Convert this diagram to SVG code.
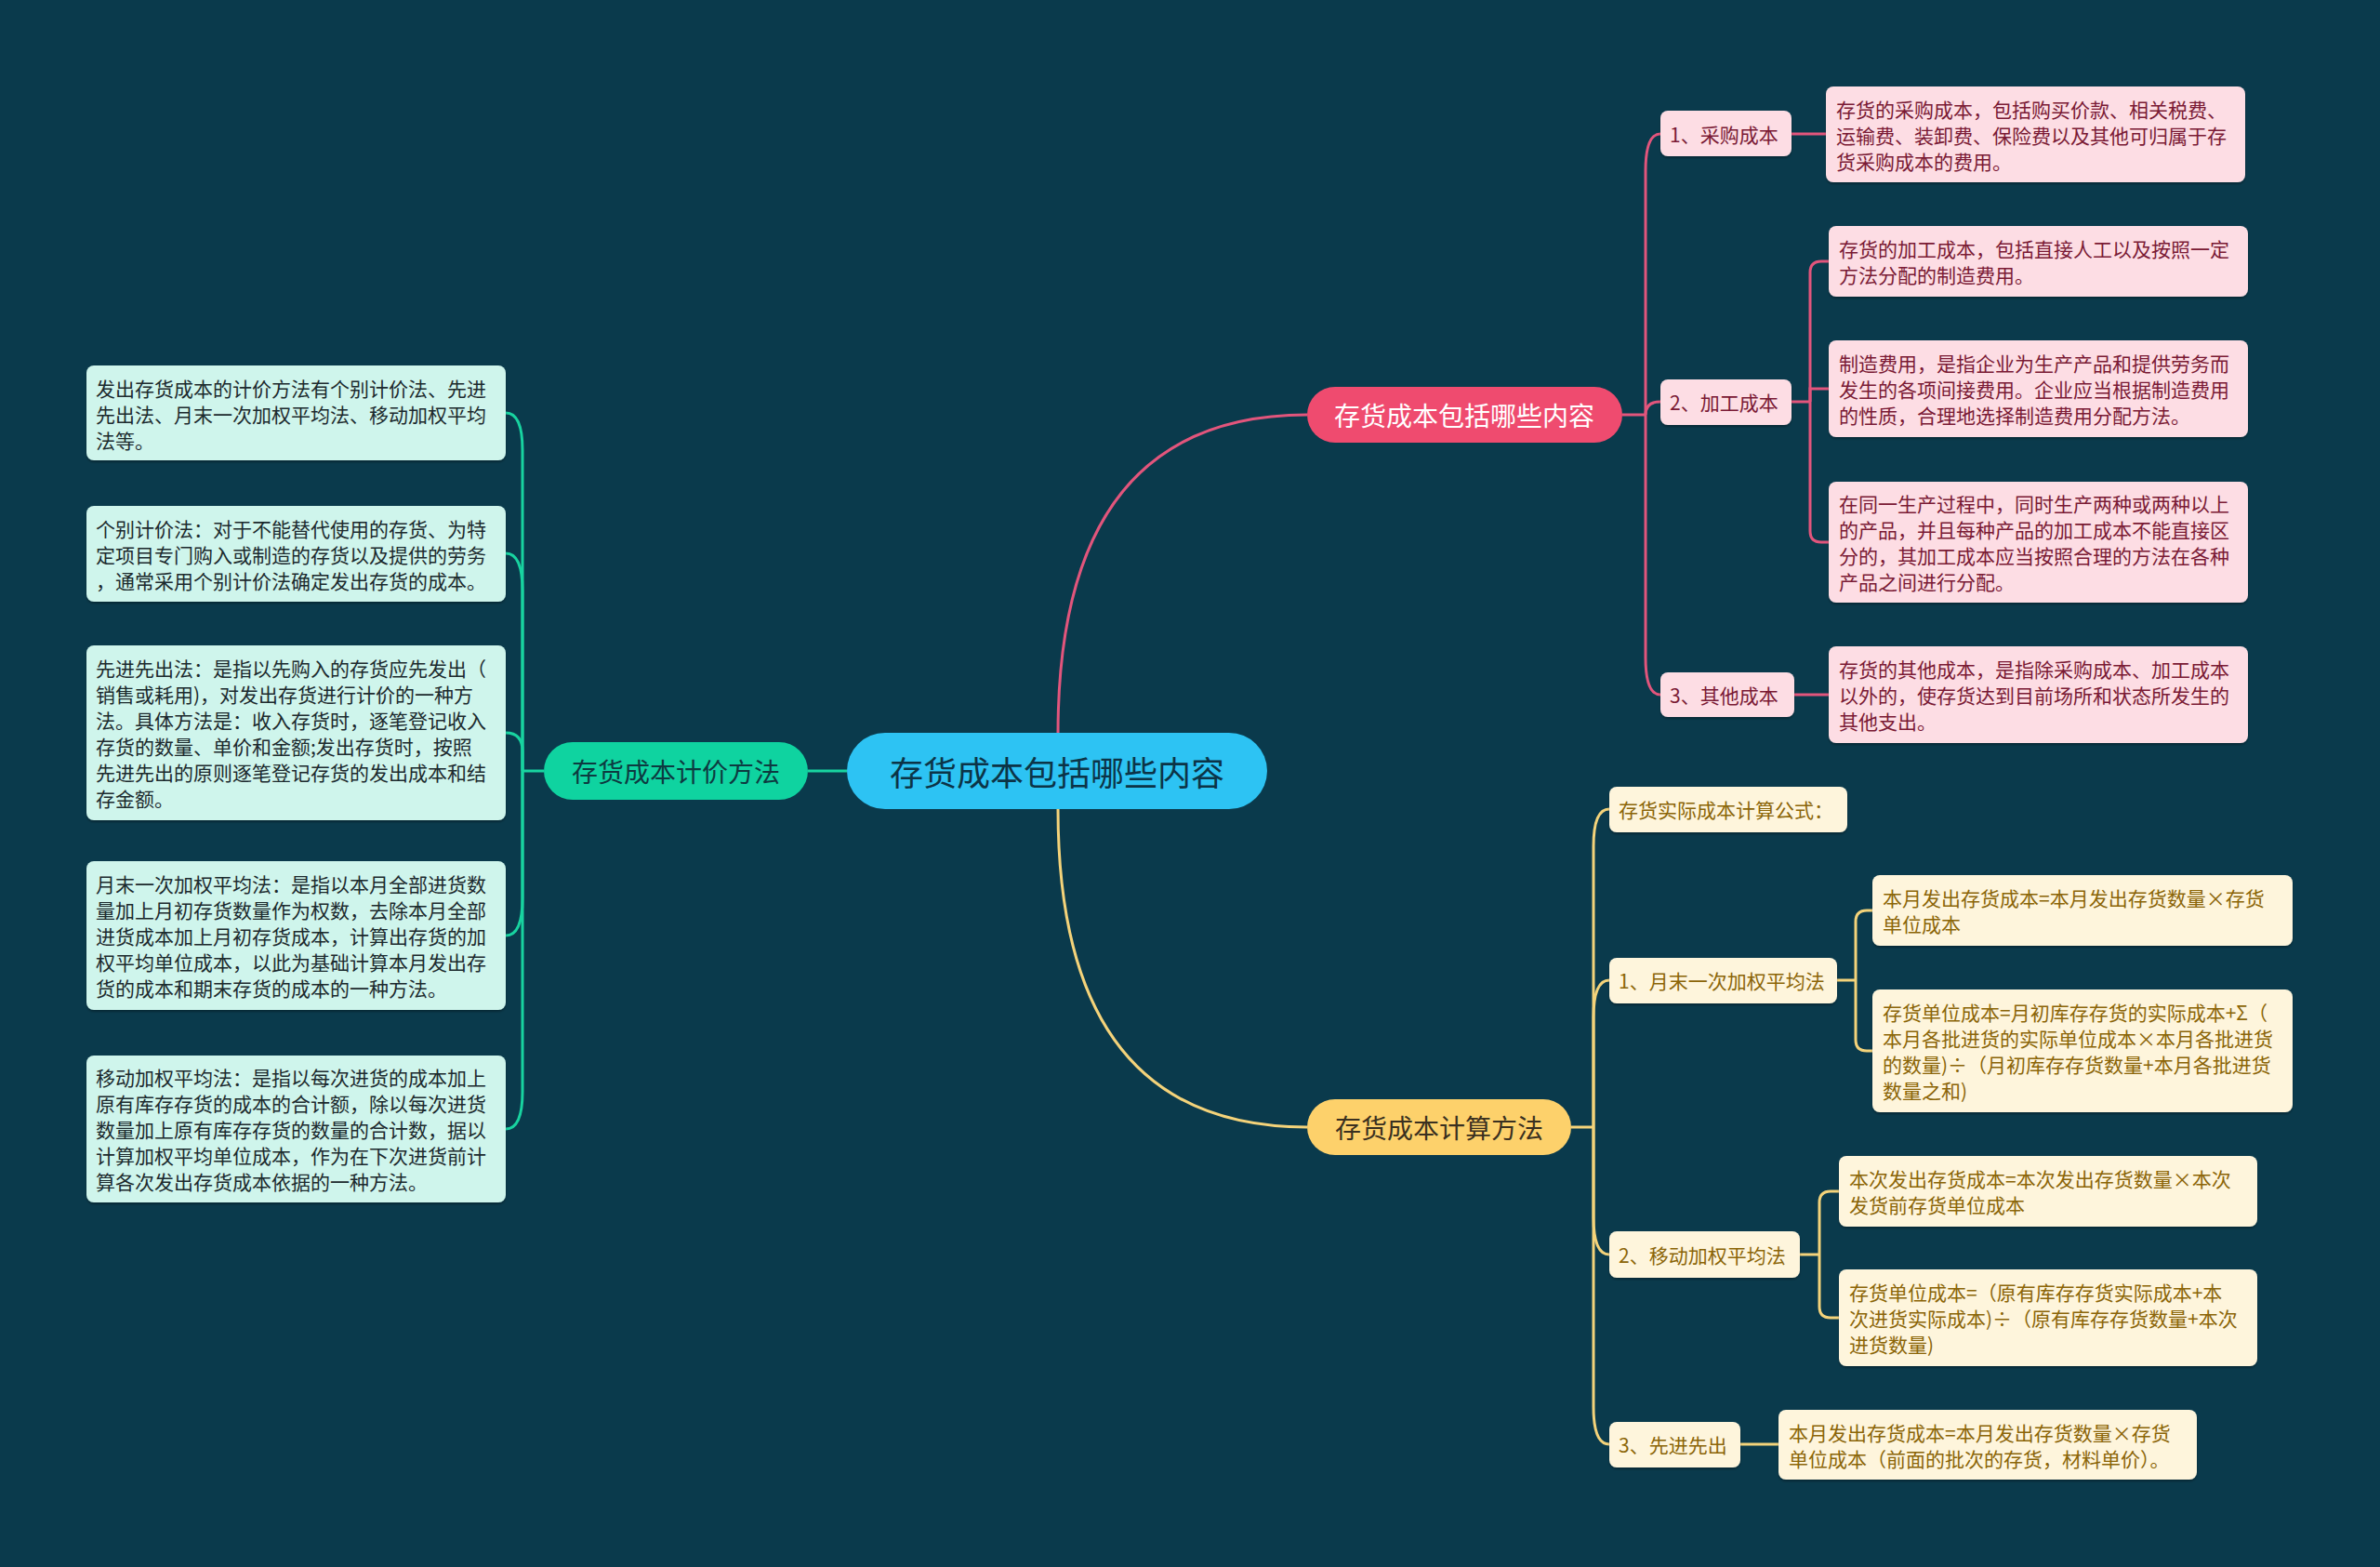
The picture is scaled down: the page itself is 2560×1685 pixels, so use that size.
<svg xmlns="http://www.w3.org/2000/svg" width="2560" height="1685" viewBox="0 0 2560 1685">
<defs>
<filter id="sh" x="-5%" y="-10%" width="110%" height="130%">
<feDropShadow dx="0" dy="2" stdDeviation="1" flood-color="#000" flood-opacity="0.3"/>
</filter>
<style>
text{font-family:"Noto Sans CJK SC","Noto Sans",sans-serif;dominant-baseline:central}
.t21{font-size:21px}
.pk rect{fill:#fddde4;filter:url(#sh)}
.pk text{fill:#7a1a35}
.yl rect{fill:#fef5dc;filter:url(#sh)}
.yl text{fill:#8b6508}
.gr rect{fill:#cff5ec;filter:url(#sh)}
.gr text{fill:#1c2a2e}
.cp{fill:none;stroke:#e2557c;stroke-width:3}
.cy{fill:none;stroke:#f4d37a;stroke-width:3}
.cg{fill:none;stroke:#18d3a0;stroke-width:3}
</style>
</defs>
<rect x="0" y="0" width="2560" height="1685" fill="#0a3a4c"/>

<g id="connectors">
<!-- root to main -->
<path class="cp" d="M1138,789 Q1138,446 1406,446"/>
<path class="cy" d="M1138,870 Q1138,1212 1406,1212"/>
<path class="cg" d="M911,829 H869"/>
<!-- pink first level -->
<path class="cp" d="M1745,446 H1770"/>
<path class="cp" d="M1770,446 V184 Q1770,144 1786,144"/>
<path class="cp" d="M1770,446 Q1770,432 1786,432"/>
<path class="cp" d="M1770,446 V707 Q1770,747 1786,747"/>
<!-- pink second level -->
<path class="cp" d="M1927,144 H1964"/>
<path class="cp" d="M1927,432 H1947"/>
<path class="cp" d="M1947,432 V293 Q1947,281 1959,281 H1967"/>
<path class="cp" d="M1947,432 V418 H1967"/>
<path class="cp" d="M1947,432 V571 Q1947,583 1959,583 H1967"/>
<path class="cp" d="M1930,747 H1967"/>
<!-- yellow first level -->
<path class="cy" d="M1690,1212 H1714"/>
<path class="cy" d="M1714,1212 V910 Q1714,870 1731,870"/>
<path class="cy" d="M1714,1212 V1094 Q1714,1054 1731,1054"/>
<path class="cy" d="M1714,1212 V1309 Q1714,1349 1731,1349"/>
<path class="cy" d="M1714,1212 V1513 Q1714,1553 1731,1553"/>
<!-- yellow second level -->
<path class="cy" d="M1976,1054 H1996"/>
<path class="cy" d="M1996,1054 V991 Q1996,979 2008,979 H2014"/>
<path class="cy" d="M1996,1054 V1118 Q1996,1130 2008,1130 H2014"/>
<path class="cy" d="M1936,1349 H1957"/>
<path class="cy" d="M1957,1349 V1293 Q1957,1281 1969,1281 H1978"/>
<path class="cy" d="M1957,1349 V1405 Q1957,1417 1969,1417 H1978"/>
<path class="cy" d="M1872,1553 H1913"/>
<!-- green -->
<path class="cg" d="M585,829 H562"/>
<path class="cg" d="M562,829 V484 Q562,444 544,444"/>
<path class="cg" d="M562,829 V635 Q562,595 544,595"/>
<path class="cg" d="M562,829 V808 Q562,788 544,788"/>
<path class="cg" d="M562,829 V966 Q562,1006 544,1006"/>
<path class="cg" d="M562,829 V1174 Q562,1214 544,1214"/>
</g>

<g id="root">
<rect x="911" y="788" width="452" height="82" rx="41" fill="#2dc3f3"/>
<text x="1137" y="829" font-size="36" text-anchor="middle" fill="#0c3447">存货成本包括哪些内容</text>
</g>

<g id="main-pink">
<rect x="1406" y="416" width="339" height="60" rx="30" fill="#ef4b6f"/>
<text x="1575" y="446" font-size="28" text-anchor="middle" fill="#ffffff">存货成本包括哪些内容</text>
</g>
<g id="main-green">
<rect x="585" y="798" width="284" height="62" rx="31" fill="#0fd3a0"/>
<text x="727" y="829" font-size="28" text-anchor="middle" fill="#0d3a40">存货成本计价方法</text>
</g>
<g id="main-yellow">
<rect x="1406" y="1182" width="284" height="60" rx="30" fill="#fdd16b"/>
<text x="1548" y="1212" font-size="28" text-anchor="middle" fill="#3a3020">存货成本计算方法</text>
</g>

<!-- pink subtree -->
<g id="p1" class="pk t21">
<rect x="1786" y="119" width="141" height="49" rx="8"/>
<text x="1796" y="144">1、采购成本</text>
</g>
<g id="p1a" class="pk t21">
<rect x="1964" y="93" width="451" height="103" rx="8"/>
<text x="1975" y="117">存货的采购成本，包括购买价款、相关税费、</text>
<text x="1975" y="145">运输费、装卸费、保险费以及其他可归属于存</text>
<text x="1975" y="173">货采购成本的费用。</text>
</g>
<g id="p2" class="pk t21">
<rect x="1786" y="408" width="141" height="49" rx="8"/>
<text x="1796" y="432">2、加工成本</text>
</g>
<g id="p2a" class="pk t21">
<rect x="1967" y="243" width="451" height="76" rx="8"/>
<text x="1978" y="267">存货的加工成本，包括直接人工以及按照一定</text>
<text x="1978" y="295">方法分配的制造费用。</text>
</g>
<g id="p2b" class="pk t21">
<rect x="1967" y="366" width="451" height="104" rx="8"/>
<text x="1978" y="390">制造费用，是指企业为生产产品和提供劳务而</text>
<text x="1978" y="418">发生的各项间接费用。企业应当根据制造费用</text>
<text x="1978" y="446">的性质，合理地选择制造费用分配方法。</text>
</g>
<g id="p2c" class="pk t21">
<rect x="1967" y="518" width="451" height="130" rx="8"/>
<text x="1978" y="541">在同一生产过程中，同时生产两种或两种以上</text>
<text x="1978" y="569">的产品，并且每种产品的加工成本不能直接区</text>
<text x="1978" y="597">分的，其加工成本应当按照合理的方法在各种</text>
<text x="1978" y="625">产品之间进行分配。</text>
</g>
<g id="p3" class="pk t21">
<rect x="1786" y="723" width="144" height="48" rx="8"/>
<text x="1796" y="747">3、其他成本</text>
</g>
<g id="p3a" class="pk t21">
<rect x="1967" y="695" width="451" height="104" rx="8"/>
<text x="1978" y="719">存货的其他成本，是指除采购成本、加工成本</text>
<text x="1978" y="747">以外的，使存货达到目前场所和状态所发生的</text>
<text x="1978" y="775">其他支出。</text>
</g>

<!-- yellow subtree -->
<g id="y0" class="yl t21">
<rect x="1731" y="846" width="256" height="49" rx="8"/>
<text x="1741" y="870">存货实际成本计算公式：</text>
</g>
<g id="y1" class="yl t21">
<rect x="1731" y="1030" width="245" height="49" rx="8"/>
<text x="1741" y="1054">1、月末一次加权平均法</text>
</g>
<g id="y1a" class="yl t21">
<rect x="2014" y="941" width="452" height="76" rx="8"/>
<text x="2025" y="965">本月发出存货成本=本月发出存货数量×存货</text>
<text x="2025" y="993">单位成本</text>
</g>
<g id="y1b" class="yl t21">
<rect x="2014" y="1064" width="452" height="132" rx="8"/>
<text x="2025" y="1088">存货单位成本=月初库存存货的实际成本+Σ（</text>
<text x="2025" y="1116">本月各批进货的实际单位成本×本月各批进货</text>
<text x="2025" y="1144">的数量)÷（月初库存存货数量+本月各批进货</text>
<text x="2025" y="1172">数量之和)</text>
</g>
<g id="y2" class="yl t21">
<rect x="1731" y="1324" width="205" height="50" rx="8"/>
<text x="1741" y="1349">2、移动加权平均法</text>
</g>
<g id="y2a" class="yl t21">
<rect x="1978" y="1243" width="450" height="76" rx="8"/>
<text x="1989" y="1267">本次发出存货成本=本次发出存货数量×本次</text>
<text x="1989" y="1295">发货前存货单位成本</text>
</g>
<g id="y2b" class="yl t21">
<rect x="1978" y="1365" width="450" height="104" rx="8"/>
<text x="1989" y="1389">存货单位成本=（原有库存存货实际成本+本</text>
<text x="1989" y="1417">次进货实际成本)÷（原有库存存货数量+本次</text>
<text x="1989" y="1445">进货数量)</text>
</g>
<g id="y3" class="yl t21">
<rect x="1731" y="1529" width="141" height="49" rx="8"/>
<text x="1741" y="1553">3、先进先出</text>
</g>
<g id="y3a" class="yl t21">
<rect x="1913" y="1516" width="450" height="75" rx="8"/>
<text x="1924" y="1540">本月发出存货成本=本月发出存货数量×存货</text>
<text x="1924" y="1568">单位成本（前面的批次的存货，材料单价）。</text>
</g>

<!-- green subtree -->
<g id="g1" class="gr t21">
<rect x="93" y="393" width="451" height="102" rx="8"/>
<text x="103" y="417">发出存货成本的计价方法有个别计价法、先进</text>
<text x="103" y="445">先出法、月末一次加权平均法、移动加权平均</text>
<text x="103" y="473">法等。</text>
</g>
<g id="g2" class="gr t21">
<rect x="93" y="544" width="451" height="103" rx="8"/>
<text x="103" y="568">个别计价法：对于不能替代使用的存货、为特</text>
<text x="103" y="596">定项目专门购入或制造的存货以及提供的劳务</text>
<text x="103" y="624">，通常采用个别计价法确定发出存货的成本。</text>
</g>
<g id="g3" class="gr t21">
<rect x="93" y="694" width="451" height="188" rx="8"/>
<text x="103" y="718">先进先出法：是指以先购入的存货应先发出（</text>
<text x="103" y="746">销售或耗用)，对发出存货进行计价的一种方</text>
<text x="103" y="774">法。具体方法是：收入存货时，逐笔登记收入</text>
<text x="103" y="802">存货的数量、单价和金额;发出存货时，按照</text>
<text x="103" y="830">先进先出的原则逐笔登记存货的发出成本和结</text>
<text x="103" y="858">存金额。</text>
</g>
<g id="g4" class="gr t21">
<rect x="93" y="926" width="451" height="160" rx="8"/>
<text x="103" y="950">月末一次加权平均法：是指以本月全部进货数</text>
<text x="103" y="978">量加上月初存货数量作为权数，去除本月全部</text>
<text x="103" y="1006">进货成本加上月初存货成本，计算出存货的加</text>
<text x="103" y="1034">权平均单位成本，以此为基础计算本月发出存</text>
<text x="103" y="1062">货的成本和期末存货的成本的一种方法。</text>
</g>
<g id="g5" class="gr t21">
<rect x="93" y="1135" width="451" height="158" rx="8"/>
<text x="103" y="1158">移动加权平均法：是指以每次进货的成本加上</text>
<text x="103" y="1186">原有库存存货的成本的合计额，除以每次进货</text>
<text x="103" y="1214">数量加上原有库存存货的数量的合计数，据以</text>
<text x="103" y="1242">计算加权平均单位成本，作为在下次进货前计</text>
<text x="103" y="1270">算各次发出存货成本依据的一种方法。</text>
</g>
</svg>
